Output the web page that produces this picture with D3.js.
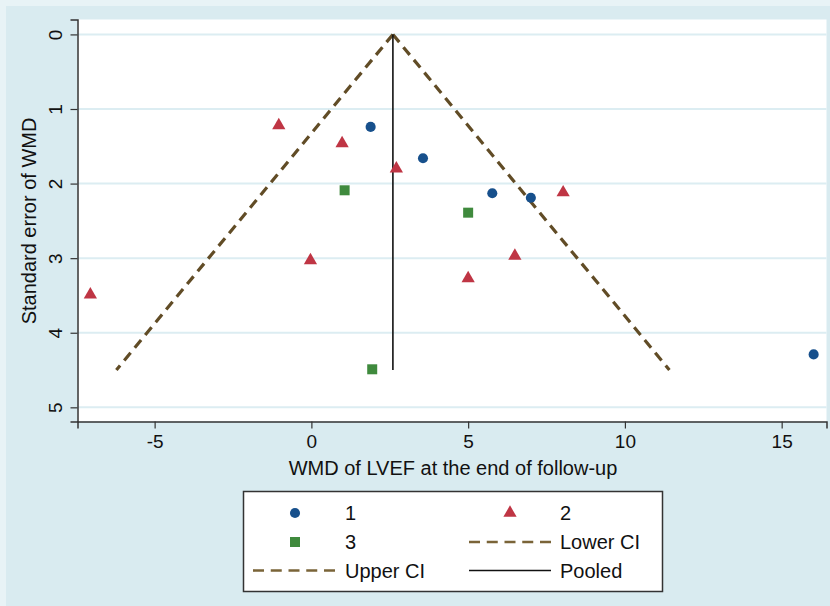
<!DOCTYPE html>
<html>
<head>
<meta charset="utf-8">
<script src="https://cdn.jsdelivr.net/npm/d3@7"></script>
<style>
  html, body { margin: 0; padding: 0; background: #d9ebf0; }
  svg { display: block; }
  text { font-family: "Liberation Sans", Arial, Helvetica, sans-serif; fill: #111; }
</style>
</head>
<body>
<svg id="chart" width="830" height="606"></svg>
<script>
// ---- data ----
const group1 = [ // blue circles: [WMD, SE]
  [1.89, 1.24], [3.56, 1.66], [5.77, 2.13], [7.0, 2.19], [16.02, 4.29]
];
const group2 = [ // red triangles
  [-1.04, 1.22], [0.98, 1.46], [2.71, 1.80], [8.03, 2.12],
  [-0.03, 3.03], [6.49, 2.97], [5.0, 3.27], [-7.05, 3.49]
];
const group3 = [ // green squares
  [1.06, 2.09], [5.0, 2.39], [1.94, 4.49]
];
const pooled = [[2.6, 0], [2.6, 4.5]];
const lowerCI = [[2.6, 0], [-6.22, 4.5]];
const upperCI = [[2.6, 0], [11.42, 4.5]];
const xTicks = [-5, 0, 5, 10, 15];
const yTicks = [0, 1, 2, 3, 4, 5];
const legendItems = ["1", "2", "3", "Lower CI", "Upper CI", "Pooled"];

// ---- layout ----
const W = 830, H = 606;
const L = 77.5, R = 826.5, T = 19.5, B = 421.5;
const svg = d3.select("#chart");

const blue = "#17508c", red = "#bf3544", green = "#3f8a3d", brown = "#614c26";

svg.append("rect").attr("width", W).attr("height", H).attr("fill", "#e8f3f6");
svg.append("rect").attr("x", 6).attr("y", 6).attr("width", W - 6).attr("height", H - 6).attr("fill", "#d9ebf0");
svg.append("rect").attr("x", L).attr("y", T).attr("width", R - L).attr("height", B - T).attr("fill", "#ffffff");

const x = d3.scaleLinear().domain([-7.46, 16.43]).range([L, R]);
const y = d3.scaleLinear().domain([-0.2, 5.19]).range([T, B]);

// gridlines
svg.append("g").selectAll("line").data(yTicks).join("line")
  .attr("x1", L).attr("x2", R)
  .attr("y1", d => y(d)).attr("y2", d => y(d))
  .attr("stroke", "#dcedf2").attr("stroke-width", 2);

// axes
const xAxis = svg.append("g").attr("transform", `translate(0,${B})`)
  .call(d3.axisBottom(x).tickValues(xTicks).tickSize(7).tickPadding(6).tickFormat(d => String(d)));
xAxis.select(".domain").attr("stroke", "#333").attr("stroke-width", 1.5);
xAxis.selectAll(".tick line").attr("stroke", "#333").attr("stroke-width", 1.2);
xAxis.selectAll(".tick text").attr("font-size", 19).attr("fill", "#111")
  .attr("font-family", "Liberation Sans, Arial, sans-serif");

const yAxis = svg.append("g").attr("transform", `translate(${L},0)`)
  .call(d3.axisLeft(y).tickValues(yTicks).tickSize(7).tickFormat(d => String(d)));
yAxis.select(".domain").attr("stroke", "#333").attr("stroke-width", 1.5);
yAxis.selectAll(".tick line").attr("stroke", "#333").attr("stroke-width", 1.2);
yAxis.selectAll(".tick text")
  .attr("font-size", 19).attr("fill", "#111")
  .attr("font-family", "Liberation Sans, Arial, sans-serif")
  .attr("x", null).attr("dy", null)
  .attr("text-anchor", "middle")
  .attr("transform", "translate(-22.5,0) rotate(-90)")
  .attr("dy", "0.35em");

// axis titles
svg.append("text").attr("x", (L + R) / 2 + 1).attr("y", 475)
  .attr("text-anchor", "middle").attr("font-size", 20)
  .text("WMD of LVEF at the end of follow-up");
svg.append("text").attr("transform", `translate(29,${(T + B) / 2 + 0.5}) rotate(-90)`)
  .attr("text-anchor", "middle").attr("dy", "0.35em").attr("font-size", 20)
  .text("Standard error of WMD");

// lines
const line = d3.line().x(d => x(d[0])).y(d => y(d[1]));
svg.append("path").datum(lowerCI).attr("d", line)
  .attr("fill", "none").attr("stroke", brown).attr("stroke-width", 3.2).attr("stroke-dasharray", "10,6.5");
svg.append("path").datum(upperCI).attr("d", line)
  .attr("fill", "none").attr("stroke", brown).attr("stroke-width", 3.2).attr("stroke-dasharray", "10,6.5");
svg.append("path").datum(pooled).attr("d", line)
  .attr("fill", "none").attr("stroke", "#111").attr("stroke-width", 1.6);

// markers
const sym = (type, size) => d3.symbol().type(type).size(size)();
svg.append("g").selectAll("path").data(group1).join("path")
  .attr("transform", d => `translate(${x(d[0])},${y(d[1])})`)
  .attr("d", sym(d3.symbolCircle, 80)).attr("fill", blue);
svg.append("g").selectAll("path").data(group2).join("path")
  .attr("transform", d => `translate(${x(d[0])},${y(d[1])})`)
  .attr("d", sym(d3.symbolTriangle, 76)).attr("fill", red);
svg.append("g").selectAll("path").data(group3).join("path")
  .attr("transform", d => `translate(${x(d[0])},${y(d[1])})`)
  .attr("d", sym(d3.symbolSquare, 100)).attr("fill", green);

// legend
const lg = svg.append("g");
lg.append("rect").attr("x", 243.5).attr("y", 491.5).attr("width", 419).attr("height", 100)
  .attr("fill", "#ffffff").attr("stroke", "#333").attr("stroke-width", 1.5);
const rows = [513, 542, 570.5];
const c1 = { sym: 295, txt: 345, lineA: 253, lineB: 335 };
const c2 = { sym: 510, txt: 560, lineA: 469, lineB: 551 };

lg.append("path").attr("transform", `translate(${c1.sym},${rows[0]})`).attr("d", sym(d3.symbolCircle, 80)).attr("fill", blue);
lg.append("path").attr("transform", `translate(${c2.sym},${rows[0]})`).attr("d", sym(d3.symbolTriangle, 76)).attr("fill", red);
lg.append("path").attr("transform", `translate(${c1.sym},${rows[1]})`).attr("d", sym(d3.symbolSquare, 100)).attr("fill", green);
lg.append("line").attr("x1", c2.lineA).attr("x2", c2.lineB).attr("y1", rows[1]).attr("y2", rows[1])
  .attr("stroke", "#7a6438").attr("stroke-width", 2.6).attr("stroke-dasharray", "11,6.75");
lg.append("line").attr("x1", c1.lineA).attr("x2", c1.lineB).attr("y1", rows[2]).attr("y2", rows[2])
  .attr("stroke", "#7a6438").attr("stroke-width", 2.6).attr("stroke-dasharray", "11,6.75");
lg.append("line").attr("x1", c2.lineA).attr("x2", c2.lineB).attr("y1", rows[2]).attr("y2", rows[2])
  .attr("stroke", "#111").attr("stroke-width", 1.6);

const textPos = [
  [c1.txt, rows[0]], [c2.txt, rows[0]], [c1.txt, rows[1]],
  [c2.txt, rows[1]], [c1.txt, rows[2]], [c2.txt, rows[2]]
];
lg.selectAll("text.lt").data(legendItems).join("text").attr("class", "lt")
  .attr("x", (d, i) => textPos[i][0]).attr("y", (d, i) => textPos[i][1])
  .attr("dy", "0.35em").attr("font-size", 20).text(d => d);
</script>
</body>
</html>
